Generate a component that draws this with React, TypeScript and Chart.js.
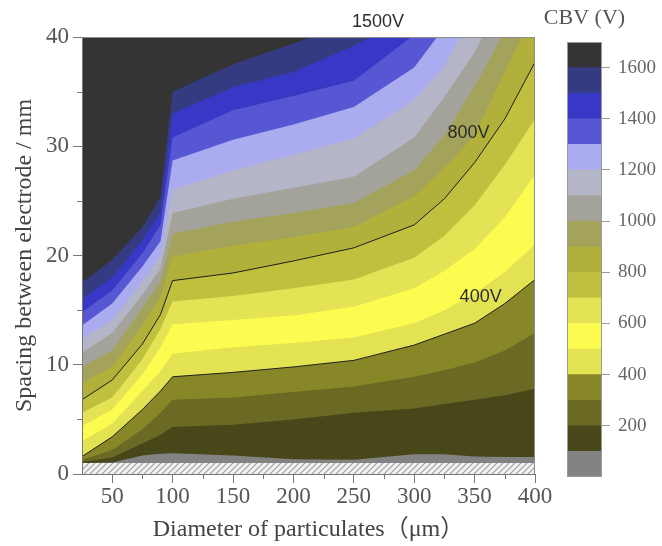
import React, { useEffect, useRef } from 'react';
import { Chart, registerables } from 'chart.js';

Chart.register(...registerables);

// ---- data ----
const X_UM = [25, 50, 75, 90, 100, 150, 200, 250, 300, 325, 350, 375, 400];

// lower edge of the contoured field (top of the hatched strip), mm
const Y_BASE = [1.0, 1.0, 1.0, 1.0, 1.0, 1.0, 1.0, 1.0, 1.0, 1.0, 1.0, 1.0, 1.0];
// iso-CBV lines: spacing (mm) at each diameter
const CBV_100 = [1.0, 1.05, 1.7, 1.85, 1.9, 1.7, 1.35, 1.3, 1.8, 1.8, 1.6, 1.55, 1.55];
const CBV_200 = [1.1, 1.5, 2.8, 3.6, 4.3, 4.5, 5.0, 5.6, 6.0, 6.4, 6.8, 7.2, 7.8];
const CBV_300 = [1.3, 2.2, 4.1, 5.6, 6.8, 7.0, 7.5, 8.0, 8.9, 9.5, 10.2, 11.3, 12.9];
const CBV_400 = [1.6, 3.4, 5.9, 7.6, 8.9, 9.3, 9.8, 10.4, 11.8, 12.8, 13.8, 15.6, 17.8];
const CBV_500 = [3.0, 4.6, 7.6, 9.4, 11.0, 11.6, 12.0, 12.5, 13.8, 15.0, 16.5, 18.5, 21.0];
const CBV_600 = [4.4, 5.9, 9.1, 11.6, 13.7, 14.1, 14.5, 15.3, 17.0, 18.6, 20.6, 23.5, 27.4];
const CBV_700 = [5.6, 7.0, 10.5, 13.3, 15.8, 16.3, 17.0, 17.8, 19.8, 21.8, 24.6, 28.3, 32.5];
const CBV_800 = [6.8, 8.6, 11.9, 14.6, 17.7, 18.4, 19.5, 20.7, 22.8, 25.2, 28.5, 32.5, 37.7];
const CBV_900 = [8.3, 9.8, 13.6, 16.2, 19.9, 20.9, 21.7, 22.6, 25.4, 28.0, 31.0, 36.8, 42.5];
const CBV_1000 = [9.8, 11.3, 15.2, 17.6, 22.0, 23.1, 23.9, 24.8, 27.8, 31.0, 35.5, 40.5, 46.0];
const CBV_1100 = [11.1, 12.9, 16.4, 18.8, 23.9, 25.2, 26.2, 27.2, 30.8, 34.5, 38.6, 44.0, 50.0];
const CBV_1200 = [12.3, 14.1, 17.6, 20.0, 26.0, 27.8, 29.2, 30.7, 34.2, 37.3, 42.5, 47.0, 52.0];
const CBV_1300 = [13.6, 15.6, 19.0, 21.3, 28.7, 30.6, 32.0, 33.6, 37.2, 40.9, 45.0, 50.0, 55.0];
const CBV_1400 = [14.8, 16.8, 20.2, 22.8, 30.8, 33.3, 34.6, 36.0, 40.2, 44.0, 48.0, 53.0, 58.0];
const CBV_1500 = [16.0, 18.0, 21.4, 24.0, 33.0, 35.4, 36.8, 39.2, 42.0, 46.0, 50.0, 55.0, 60.0];
const CBV_1600 = [17.5, 19.6, 22.6, 25.4, 35.0, 37.5, 39.4, 41.5, 44.0, 48.0, 52.0, 57.0, 62.0];

const CONTOURS = [
  Y_BASE, CBV_100, CBV_200, CBV_300, CBV_400, CBV_500, CBV_600, CBV_700, CBV_800,
  CBV_900, CBV_1000, CBV_1100, CBV_1200, CBV_1300, CBV_1400, CBV_1500, CBV_1600,
];

// colour bar
const CB_EDGES = [0, 100, 200, 300, 400, 500, 600, 700, 800, 900, 1000, 1100, 1200, 1300, 1400, 1500, 1600, 1700];
const CB_TICKS = [200, 400, 600, 800, 1000, 1200, 1400, 1600];

// axes
const X_TICKS = [50, 100, 150, 200, 250, 300, 350, 400];
const X_MINOR = [75, 125, 175, 225, 275, 325, 375];
const Y_TICKS = [0, 10, 20, 30, 40];
const Y_MINOR = [5, 15, 25, 35];

// contour labels
const CONTOUR_LABELS = [
  { text: '1500V', x: 270, y: 41.35 },
  { text: '800V', x: 345, y: 31.2 },
  { text: '400V', x: 355, y: 16.2 },
];

// ---- styles ----
const BAND_COLORS = [
  '#838383', '#47471a', '#6a6a24', '#878728', '#e2e252', '#fcfc50', '#e3e355', '#c0c03e',
  '#b0b03a', '#a3a35c', '#a3a39c', '#b5b5c8', '#ababf0', '#5757d4', '#3838c6', '#353b80', '#343434',
];
const SERIF = '"Liberation Serif", "Times New Roman", "Noto Sans CJK SC", serif';
const SANS = '"Liberation Sans", Arial, sans-serif';

function makeHatch(): CanvasPattern | string {
  const c = document.createElement('canvas');
  c.width = 6;
  c.height = 6;
  const g = c.getContext('2d');
  if (!g) return '#e8e8e8';
  g.fillStyle = '#f2f2f2';
  g.fillRect(0, 0, 6, 6);
  g.strokeStyle = '#a0a0a0';
  g.lineWidth = 1.2;
  g.beginPath();
  g.moveTo(0, 6); g.lineTo(6, 0);
  g.moveTo(-3, 3); g.lineTo(3, -3);
  g.moveTo(3, 9); g.lineTo(9, 3);
  g.stroke();
  const p = g.createPattern(c, 'repeat');
  return p || '#e8e8e8';
}

const decorPlugin = {
  id: 'decor',
  afterDatasetsDraw(chart: any) {
    const { ctx, chartArea: a, scales } = chart;
    const xs = scales.x;
    const ys = scales.y;
    ctx.save();
    ctx.strokeStyle = '#8c8c8c';
    ctx.lineWidth = 1;
    ctx.beginPath();
    ctx.moveTo(a.left, a.top + 0.5);
    ctx.lineTo(a.right - 0.5, a.top + 0.5);
    ctx.lineTo(a.right - 0.5, a.bottom);
    ctx.stroke();
    ctx.strokeStyle = '#777';
    ctx.beginPath();
    for (const v of X_MINOR) {
      const px = Math.round(xs.getPixelForValue(v)) + 0.5;
      ctx.moveTo(px, a.bottom);
      ctx.lineTo(px, a.bottom + 5);
    }
    for (const v of Y_MINOR) {
      const py = Math.round(ys.getPixelForValue(v)) + 0.5;
      ctx.moveTo(a.left - 5, py);
      ctx.lineTo(a.left, py);
    }
    ctx.stroke();
    ctx.restore();
  },
  afterDraw(chart: any) {
    const { ctx, scales } = chart;
    ctx.save();
    ctx.font = '18px ' + SANS;
    ctx.fillStyle = '#2b2b2b';
    ctx.textAlign = 'center';
    ctx.textBaseline = 'middle';
    for (const l of CONTOUR_LABELS) {
      ctx.fillText(l.text, scales.x.getPixelForValue(l.x), scales.y.getPixelForValue(l.y));
    }
    ctx.restore();
  },
};

const cbPlugin = {
  id: 'cbframe',
  afterDraw(chart: any) {
    const { ctx, chartArea: a } = chart;
    ctx.save();
    ctx.strokeStyle = '#9a9a9a';
    ctx.lineWidth = 1;
    ctx.strokeRect(a.left + 0.5, a.top + 0.5, a.right - a.left - 1, a.bottom - a.top - 1);
    ctx.font = '22px ' + SERIF;
    ctx.fillStyle = '#555';
    ctx.textAlign = 'center';
    ctx.textBaseline = 'middle';
    ctx.fillText('CBV (V)', (a.left + a.right) / 2, a.top - 24);
    ctx.restore();
  },
};

export default function App() {
  const mainRef = useRef<HTMLCanvasElement | null>(null);
  const cbRef = useRef<HTMLCanvasElement | null>(null);

  useEffect(() => {
    if (!mainRef.current || !cbRef.current) return;
    const pts = (ys: number[]) => X_UM.map((x, i) => ({ x, y: ys[i] }));
    const hatch = makeHatch();

    const bandSets: any[] = CONTOURS.map((ys, k) => ({
      data: pts(ys),
      fill: 'end',
      backgroundColor: BAND_COLORS[k],
      borderColor: 'rgba(0,0,0,0)',
      borderWidth: 0,
      pointRadius: 0,
      tension: 0,
      order: -k,
    }));
    const hatchSet = {
      data: pts(Y_BASE),
      fill: 'start',
      backgroundColor: hatch,
      borderColor: 'rgba(0,0,0,0)',
      borderWidth: 0,
      pointRadius: 0,
      order: 10,
    };
    const lineSets = [CBV_400, CBV_800].map((ys) => ({
      data: pts(ys),
      fill: false,
      borderColor: '#1e1e1e',
      borderWidth: 1,
      pointRadius: 0,
      tension: 0,
      order: -100,
    }));

    const main = new Chart(mainRef.current, {
      type: 'line',
      data: { datasets: [...lineSets, ...bandSets, hatchSet] as any },
      options: {
        responsive: false,
        animation: false,
        events: [],
        layout: { padding: { left: 0, right: 127, top: 37, bottom: 0 } },
        plugins: { legend: { display: false }, tooltip: { enabled: false } },
        scales: {
          x: {
            type: 'linear',
            min: 25,
            max: 400,
            afterBuildTicks: (s: any) => { s.ticks = X_TICKS.map((v) => ({ value: v })); },
            afterFit: (s: any) => { s.height = 72; },
            ticks: { font: { family: SERIF, size: 23 }, color: '#555', padding: 0, maxRotation: 0, autoSkip: false, callback: (v: any) => String(v) },
            grid: { drawOnChartArea: false, tickLength: 9, color: '#777' },
            border: { color: '#777', z: 1 },
            title: {
              display: true,
              text: 'Diameter of particulates（μm）',
              font: { family: SERIF, size: 24 },
              color: '#444',
              padding: { top: 0, bottom: 2 },
            },
          },
          y: {
            type: 'linear',
            min: 0,
            max: 40,
            afterBuildTicks: (s: any) => { s.ticks = Y_TICKS.map((v) => ({ value: v })); },
            afterFit: (s: any) => { s.width = 82; },
            ticks: { font: { family: SERIF, size: 23 }, color: '#555', padding: 4, callback: (v: any) => String(v) },
            grid: { drawOnChartArea: false, tickLength: 9, color: '#777' },
            border: { color: '#777', z: 1 },
            title: {
              display: true,
              text: 'Spacing between electrode / mm',
              font: { family: SERIF, size: 24 },
              color: '#444',
              padding: { top: 10, bottom: 0 },
            },
          },
        },
      } as any,
      plugins: [decorPlugin],
    });

    const cb = new Chart(cbRef.current, {
      type: 'bar',
      data: {
        labels: ['CBV'],
        datasets: BAND_COLORS.map((c, k) => ({
          data: [[CB_EDGES[k], CB_EDGES[k + 1]]],
          backgroundColor: c,
          borderWidth: 0,
          grouped: false,
          barPercentage: 1,
          categoryPercentage: 1,
        })) as any,
      },
      options: {
        responsive: false,
        animation: false,
        events: [],
        layout: { padding: { left: 27, right: 0, top: 42, bottom: 69 } },
        plugins: { legend: { display: false }, tooltip: { enabled: false } },
        scales: {
          x: { display: false },
          y: {
            position: 'right',
            min: 0,
            max: 1700,
            afterBuildTicks: (s: any) => { s.ticks = CB_TICKS.map((v) => ({ value: v })); },
            afterFit: (s: any) => { s.width = 60; },
            ticks: { font: { family: SERIF, size: 19 }, color: '#666', padding: 8, callback: (v: any) => String(v) },
            grid: { drawOnChartArea: false, tickLength: 8, color: '#999' },
            border: { display: false },
          },
        },
      } as any,
      plugins: [cbPlugin],
    });

    return () => {
      main.destroy();
      cb.destroy();
    };
  }, []);

  return (
    <div style={{ position: 'fixed', left: 0, top: 0, width: 662, height: 546, background: '#fff' }}>
      <canvas ref={mainRef} width={662} height={546} style={{ position: 'absolute', left: 0, top: 0 }} />
      <canvas ref={cbRef} width={122} height={546} style={{ position: 'absolute', left: 540, top: 0 }} />
    </div>
  );
}
